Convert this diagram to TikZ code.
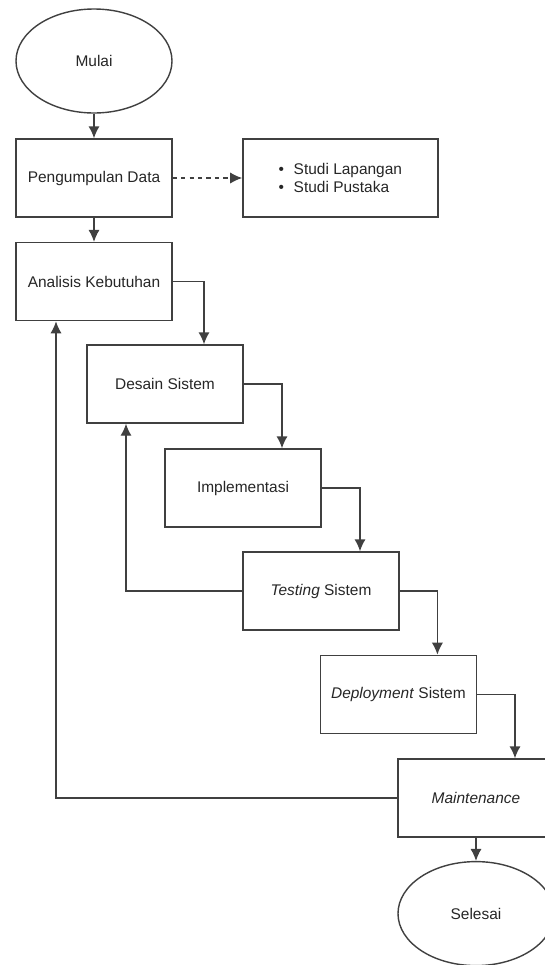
\documentclass[tikz,border=0pt]{standalone}
\usepackage{fontspec}
\setmainfont{Liberation Sans}
\usepackage{tikz}
\usetikzlibrary{arrows,arrows.meta,shapes.geometric}

\begin{document}
\begin{tikzpicture}[
  scale=1.0,
  every node/.style={font=\fontsize{11}{13}\selectfont,text=black!85},
  bnode/.style={draw=black!75,line width=1pt,rectangle,minimum width=3.9cm,minimum height=1.95cm,inner sep=0pt},
  enode/.style={draw=black!75,line width=1pt,ellipse,minimum width=3.9cm,minimum height=2.6cm,inner sep=0pt}
]
  \useasboundingbox (0,0) rectangle (13.625,-24.125);

  % start / end
  \node[enode] (st) at (2.35,-1.525) {Mulai};
  \node[enode] (en) at (11.9,-22.84) {Selesai};

  % steps
  \node[bnode] (pd) at (2.35,-4.45) {Pengumpulan Data};
  \node[bnode,minimum width=4.875cm,align=left] (sp) at (8.51,-4.45)
    {\makebox[0.375cm][l]{\textbullet}Studi Lapangan\\\makebox[0.375cm][l]{\textbullet}Studi Pustaka};
  \node[bnode] (ak) at (2.35,-7.04) {Analisis Kebutuhan};
  \node[bnode] (ds) at (4.125,-9.6) {Desain Sistem};
  \node[bnode] (im) at (6.075,-12.2) {Implementasi};
  \node[bnode] (ts) at (8.025,-14.775) {\textit{Testing} Sistem};
  \node[bnode] (dp) at (9.96,-17.36) {\textit{Deployment} Sistem};
  \node[bnode] (mt) at (11.9,-19.95) {\textit{Maintenance}};

  % main flow
  \draw[black!75,line width=1pt,-{Latex[length=3mm,width=2.8mm]}] (st) -- (pd);
  \draw[black!75,line width=1pt,-{Latex[length=3mm,width=2.8mm]}] (pd) -- (ak);
  \draw[black!75,line width=1pt,dashed,-{Latex[length=3mm,width=2.8mm]}] (pd) -- (sp);
  \draw[black!75,line width=1pt,-{Latex[length=3mm,width=2.8mm]}] (ak.east) -| ([xshift=0.975cm]ds.north);
  \draw[black!75,line width=1pt,-{Latex[length=3mm,width=2.8mm]}] (ds.east) -| ([xshift=0.975cm]im.north);
  \draw[black!75,line width=1pt,-{Latex[length=3mm,width=2.8mm]}] (im.east) -| ([xshift=0.975cm]ts.north);
  \draw[black!75,line width=1pt,-{Latex[length=3mm,width=2.8mm]}] (ts.east) -| ([xshift=0.975cm]dp.north);
  \draw[black!75,line width=1pt,-{Latex[length=3mm,width=2.8mm]}] (dp.east) -| ([xshift=0.975cm]mt.north);
  \draw[black!75,line width=1pt,-{Latex[length=3mm,width=2.8mm]}] (mt) -- (en);

  % feedback edges
  \draw[black!75,line width=1pt,-{Latex[length=3mm,width=2.8mm]}] (ts.west) -| ([xshift=-0.975cm]ds.south);
  \draw[black!75,line width=1pt,-{Latex[length=3mm,width=2.8mm]}] (mt.west) -| ([xshift=-0.95cm]ak.south);

\end{tikzpicture}
\end{document}
